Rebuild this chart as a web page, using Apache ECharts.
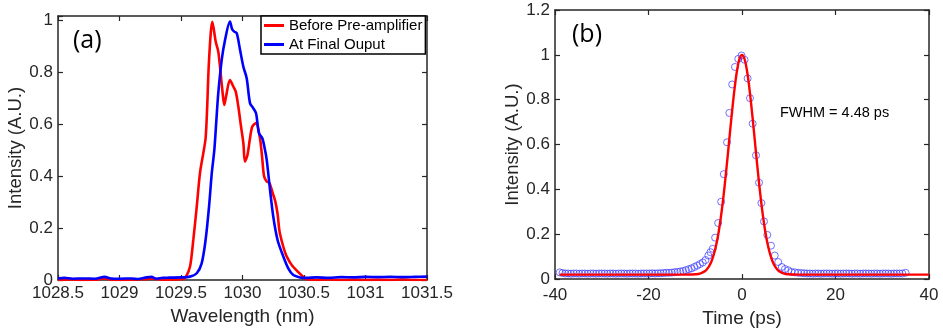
<!DOCTYPE html>
<html><head><meta charset="utf-8">
<script src="https://cdn.jsdelivr.net/npm/echarts@6/dist/echarts.min.js"></script>
<style>html,body{margin:0;padding:0;background:#fff}#c{width:943px;height:333px}</style>
</head><body><div id="c"></div>
<script>
// ---------- Panel (a): spectra ----------
const wlTicks = [1028.5, 1029, 1029.5, 1030, 1030.5, 1031, 1031.5];
const redWl = [1028.50,1028.60,1028.70,1028.80,1028.88,1028.95,1029.10,1029.20,1029.28,1029.35,1029.45,1029.52,
  1029.54,1029.573,1029.600,1029.628,1029.654,1029.681,1029.700,1029.712,1029.728,1029.755,1029.782,1029.803,
  1029.817,1029.836,1029.852,1029.866,1029.898,1029.925,1029.945,1029.966,1029.988,1030.007,1030.020,1030.040,
  1030.061,1030.080,1030.110,1030.140,1030.158,1030.175,1030.195,1030.220,1030.245,1030.265,1030.285,1030.300,
  1030.319,1030.340,1030.360,1030.400,1030.454,1030.494,1030.520,1030.600,1030.700,1030.800,1030.900,1031.000,
  1031.100,1031.200,1031.300,1031.400,1031.500];
const redInt = [0.000,0.002,0.000,0.001,0.006,0.000,0.001,0.003,0.005,0.001,0.002,0.004,
  0.012,0.051,0.154,0.282,0.410,0.487,0.545,0.654,0.846,0.993,0.917,0.878,
  0.820,0.731,0.673,0.705,0.769,0.744,0.724,0.667,0.590,0.526,0.455,0.480,
  0.545,0.590,0.603,0.551,0.480,0.400,0.380,0.372,0.335,0.305,0.255,0.190,
  0.150,0.115,0.090,0.058,0.030,0.012,0.003,0.000,0.002,0.000,0.001,0.000,
  0.001,0.000,0.002,0.000,0.000];
const blueWl = [1028.50,1028.55,1028.62,1028.70,1028.80,1028.88,1028.93,1029.00,1029.10,1029.15,1029.22,1029.26,
  1029.30,1029.35,1029.40,1029.50,1029.573,1029.628,1029.668,1029.700,1029.728,1029.750,1029.771,1029.787,
  1029.803,1029.831,1029.858,1029.898,1029.915,1029.933,1029.953,1029.980,1030.007,1030.034,1030.061,1030.088,
  1030.110,1030.134,1030.161,1030.183,1030.197,1030.224,1030.250,1030.285,1030.332,1030.372,1030.413,1030.467,
  1030.520,1030.600,1030.700,1030.800,1030.900,1031.000,1031.100,1031.200,1031.300,1031.400,1031.500];
const blueInt = [0.006,0.008,0.005,0.006,0.005,0.012,0.006,0.005,0.006,0.004,0.010,0.012,
  0.005,0.008,0.009,0.010,0.013,0.026,0.064,0.154,0.282,0.410,0.500,0.610,
  0.718,0.846,0.923,0.994,0.965,0.955,0.949,0.885,0.820,0.776,0.680,0.660,
  0.641,0.564,0.545,0.500,0.462,0.346,0.244,0.154,0.090,0.045,0.019,0.010,
  0.008,0.010,0.008,0.011,0.010,0.012,0.011,0.012,0.011,0.012,0.013];

// ---------- Panel (b): autocorrelation ----------
const pulseT = [-39.0,-38.4,-37.8,-37.2,-36.6,-36.0,-35.4,-34.8,-34.2,-33.6,-33.0,-32.4,-31.8,-31.2,-30.6,-30.0,
  -29.4,-28.8,-28.2,-27.6,-27.0,-26.4,-25.8,-25.2,-24.6,-24.0,-23.4,-22.8,-22.2,-21.6,-21.0,-20.4,-19.8,-19.2,
  -18.6,-18.0,-17.4,-16.8,-16.2,-15.6,-15.0,-14.4,-13.8,-13.2,-12.6,-12.0,-11.4,-10.8,-10.2,-9.6,-9.0,-8.4,
  -7.8,-7.2,-6.75,-6.27,-5.75,-5.1,-4.45,-3.9,-3.2,-2.71,-2.1,-1.5,-0.8,-0.1,0.55,1.2,1.71,2.28,3.0,3.64,
  4.15,4.7,5.42,6.2,7.0,7.75,8.5,9.2,9.9,10.6,11.3,12.0,12.7,13.3,13.9,14.5,15.1,15.7,16.3,16.9,17.5,18.1,
  18.7,19.3,19.9,20.5,21.1,21.7,22.3,22.9,23.5,24.1,24.7,25.3,25.9,26.5,27.1,27.7,28.3,28.9,29.5,30.1,30.7,
  31.3,31.9,32.5,33.1,33.7,34.3,35.0];
const pulseI = [0.030,0.027,0.025,0.025,0.024,0.025,0.025,0.024,0.025,0.025,0.024,0.025,0.025,0.024,0.025,0.025,
  0.025,0.024,0.025,0.025,0.024,0.025,0.025,0.025,0.024,0.025,0.025,0.025,0.024,0.025,0.025,0.025,0.025,0.026,
  0.025,0.026,0.026,0.027,0.028,0.028,0.029,0.031,0.032,0.034,0.036,0.040,0.044,0.048,0.054,0.060,0.067,0.074,
  0.085,0.105,0.120,0.135,0.185,0.250,0.345,0.468,0.610,0.741,0.868,0.946,0.982,0.997,0.978,0.895,0.807,0.693,0.552,0.430,
  0.339,0.257,0.197,0.149,0.105,0.076,0.054,0.045,0.039,0.032,0.030,0.028,0.027,0.026,0.025,0.025,0.024,0.025,0.025,0.024,0.025,0.025,
  0.025,0.024,0.025,0.025,0.024,0.025,0.025,0.025,0.024,0.025,0.025,0.024,0.025,0.025,0.025,0.024,0.025,0.025,0.024,0.025,0.025,
  0.025,0.024,0.025,0.025,0.025,0.025,0.028];
const fitT = [-39,-20,-12,-11,-10,-9,-8,-7.5,-7,-6.5,-6,-5.5,-5,-4.5,-4,-3.5,-3,-2.5,-2,-1.5,-1,-0.5,0,
  0.5,1,1.5,2,2.5,3,3.5,4,4.5,5,5.5,6,6.5,7,7.5,8,9,10,11,12,20,40];
const fitI = [0.020,0.020,0.020,0.0205,0.0214,0.0248,0.0345,0.044,0.059,0.081,0.112,0.154,0.209,0.279,0.362,0.458,0.562,0.670,0.773,0.865,0.938,0.984,1.000,
  0.984,0.938,0.865,0.773,0.670,0.562,0.458,0.362,0.279,0.209,0.154,0.112,0.081,0.059,0.044,0.0345,0.0248,0.0214,0.0205,0.020,0.020,0.020];

const legendNames = ['Before Pre-amplifier', 'At Final Ouput'];

const FONT = '"Liberation Sans", Arial, Helvetica, sans-serif';
const INK = '#262626';
const zip = (a, b) => a.map((v, i) => [v, b[i]]);

function xAxisCfg(grid, min, max, interval, pos, name, nameGap, margin) {
  const main = pos === 'bottom';
  return {
    type: 'value', gridIndex: grid, position: pos, min, max, interval,
    axisLine: { show: true, onZero: false, lineStyle: { color: INK, width: 1.5 } },
    axisTick: { show: true, inside: true, length: 5, lineStyle: { color: INK, width: 1.2 } },
    axisLabel: { show: main, color: INK, fontSize: 17, fontFamily: FONT, margin, formatter: v => String(v) },
    splitLine: { show: false },
    name: main ? name : '', nameLocation: 'middle', nameGap,
    nameTextStyle: { color: INK, fontSize: 19, fontFamily: FONT }
  };
}
function yAxisCfg(grid, min, max, interval, pos, name, nameGap) {
  const main = pos === 'left';
  return {
    type: 'value', gridIndex: grid, position: pos, min, max, interval,
    axisLine: { show: true, onZero: false, lineStyle: { color: INK, width: 1.5 } },
    axisTick: { show: true, inside: true, length: 5, lineStyle: { color: INK, width: 1.2 } },
    axisLabel: { show: main, color: INK, fontSize: 17, fontFamily: FONT, margin: 5,
      formatter: v => (Math.abs(v * 5 - Math.round(v * 5)) < 1e-6 ? String(+v.toFixed(1)) : '') },
    splitLine: { show: false },
    name: main ? name : '', nameLocation: 'middle', nameGap, nameRotate: 90,
    nameTextStyle: { color: INK, fontSize: 18.5, fontFamily: FONT }
  };
}

const chart = echarts.init(document.getElementById('c'), null, { renderer: 'canvas' });
chart.setOption({
  animation: false,
  backgroundColor: '#fff',
  grid: [
    { left: 58, top: 16, width: 369, height: 264 },
    { left: 555, top: 10, width: 374, height: 274 }
  ],
  xAxis: [
    xAxisCfg(0, wlTicks[0], wlTicks[wlTicks.length - 1], 0.5, 'bottom', 'Wavelength (nm)', 25, 5),
    xAxisCfg(0, wlTicks[0], wlTicks[wlTicks.length - 1], 0.5, 'top', '', 0, 0),
    xAxisCfg(1, -40, 40, 20, 'bottom', 'Time (ps)', 25, 8),
    xAxisCfg(1, -40, 40, 20, 'top', '', 0, 0)
  ],
  yAxis: [
    yAxisCfg(0, 0, 1.015, 0.2, 'left', 'Intensity (A.U.)', 31),
    yAxisCfg(0, 0, 1.015, 0.2, 'right', '', 0),
    yAxisCfg(1, 0, 1.2, 0.2, 'left', 'Intensity (A.U.)', 32),
    yAxisCfg(1, 0, 1.2, 0.2, 'right', '', 0)
  ],
  legend: {
    data: legendNames, orient: 'vertical', left: 261, top: 16,
    icon: 'rect', itemWidth: 20, itemHeight: 3, itemGap: 2,
    padding: [1, 3, 1, 3], borderColor: '#000', borderWidth: 1.5, backgroundColor: '#fff',
    textStyle: { fontSize: 15, color: '#000', fontFamily: FONT, lineHeight: 17 },
    selectedMode: false
  },
  graphic: [
    { type: 'text', left: 73, top: 28, style: { text: '(a)', fontSize: 25, fontFamily: '"Open Sans", sans-serif', fill: '#000' } },
    { type: 'text', left: 572, top: 22, style: { text: '(b)', fontSize: 25, fontFamily: '"Open Sans", sans-serif', fill: '#000' } },
    { type: 'text', left: 780, top: 105, style: { text: 'FWHM = 4.48 ps', fontSize: 14.5, fontFamily: FONT, fill: '#000' } }
  ],
  series: [
    { name: legendNames[0], type: 'line', xAxisIndex: 0, yAxisIndex: 0, data: zip(redWl, redInt),
      symbol: 'none', smooth: 0.3, color: '#ff0000', lineStyle: { color: '#ff0000', width: 2.6 }, z: 2 },
    { name: legendNames[1], type: 'line', xAxisIndex: 0, yAxisIndex: 0, data: zip(blueWl, blueInt),
      symbol: 'none', smooth: 0.3, color: '#0000ff', lineStyle: { color: '#0000ff', width: 2.6 }, z: 3 },
    { type: 'scatter', xAxisIndex: 2, yAxisIndex: 2, data: zip(pulseT, pulseI),
      symbol: 'circle', symbolSize: 7,
      itemStyle: { color: 'rgba(0,0,0,0)', borderColor: '#3a3aff', borderWidth: 0.9 }, z: 2 },
    { type: 'line', xAxisIndex: 2, yAxisIndex: 2, data: zip(fitT, fitI),
      symbol: 'none', smooth: 0.4, lineStyle: { color: '#ff0000', width: 2.4 }, z: 3 }
  ]
});
</script></body></html>
